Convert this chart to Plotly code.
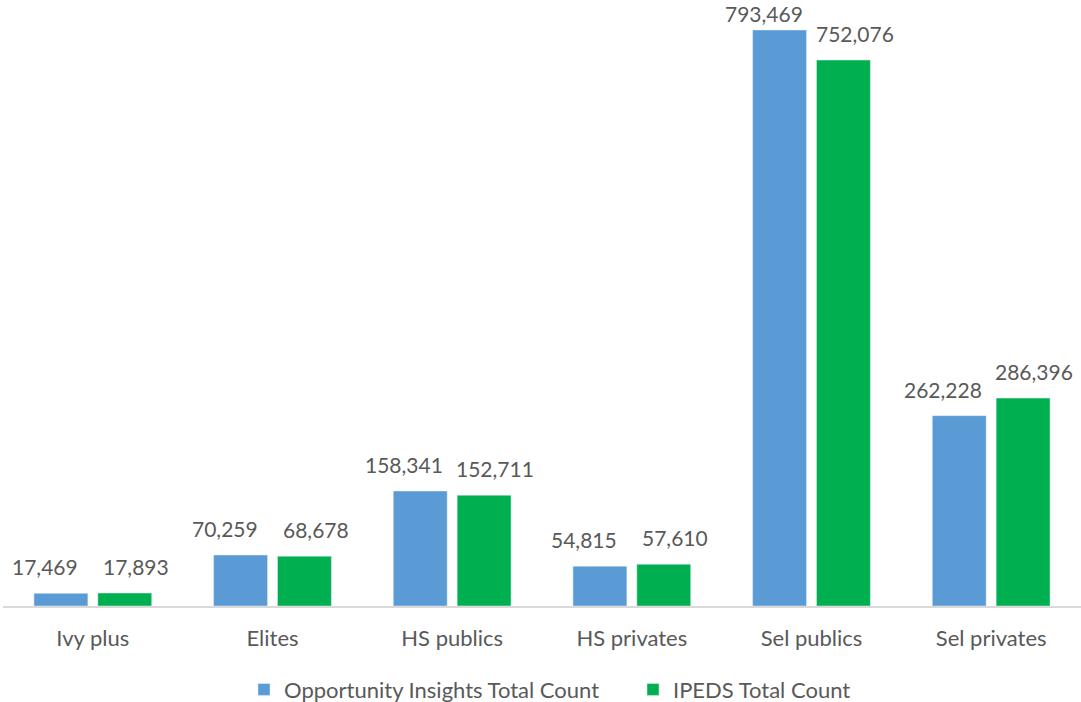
import plotly.graph_objects as go

categories = ["Ivy plus", "Elites", "HS publics", "HS privates", "Sel publics", "Sel privates"]
oi_counts = [17469, 70259, 158341, 54815, 793469, 262228]
ipeds_counts = [17893, 68678, 152711, 57610, 752076, 286396]
series_names = ["Opportunity Insights Total Count", "IPEDS Total Count"]

FONT = "Lato, Carlito, Calibri, sans-serif"
GRAY = "#595959"

fig = go.Figure()
fig.add_trace(go.Bar(x=categories, y=oi_counts, name=series_names[0],
                     marker=dict(color="#5B9BD5")))
fig.add_trace(go.Bar(x=categories, y=ipeds_counts, name=series_names[1],
                     marker=dict(color="#00B050")))

top_value = max(oi_counts + ipeds_counts)
# data labels above each bar, pushed outward from the group centre
for vals, shift in ((oi_counts, -48), (ipeds_counts, 43)):
    for c, v in zip(categories, vals):
        fig.add_annotation(x=c, y=v, text=f"{v:,}", showarrow=False,
                           xshift=shift, yshift=2 if v == top_value else 12,
                           yanchor="bottom",
                           font=dict(size=21, color=GRAY, family=FONT))

fig.update_layout(
    width=1081, height=702,
    margin=dict(l=3, r=0, t=0, b=96, autoexpand=False),
    paper_bgcolor="white", plot_bgcolor="white",
    barmode="group", bargap=0.289, bargroupgap=0.156,
    font=dict(family=FONT, color=GRAY, size=22),
    xaxis=dict(showline=True, linecolor="#D9D9D9", linewidth=1.5, automargin=False,
               ticks="", tickfont=dict(size=22, color=GRAY), showgrid=False,
               ticklabelstandoff=12),
    yaxis=dict(range=[0, 834800], visible=False, showgrid=False, automargin=False),
    legend=dict(orientation="h", x=(244 - 3) / 1078, xanchor="left", y=-0.138, yanchor="middle",
                font=dict(size=22, color=GRAY), itemwidth=30, tracegroupgap=0,
                entrywidth=344, entrywidthmode="pixels"),
)

fig.write_html("out.html")
